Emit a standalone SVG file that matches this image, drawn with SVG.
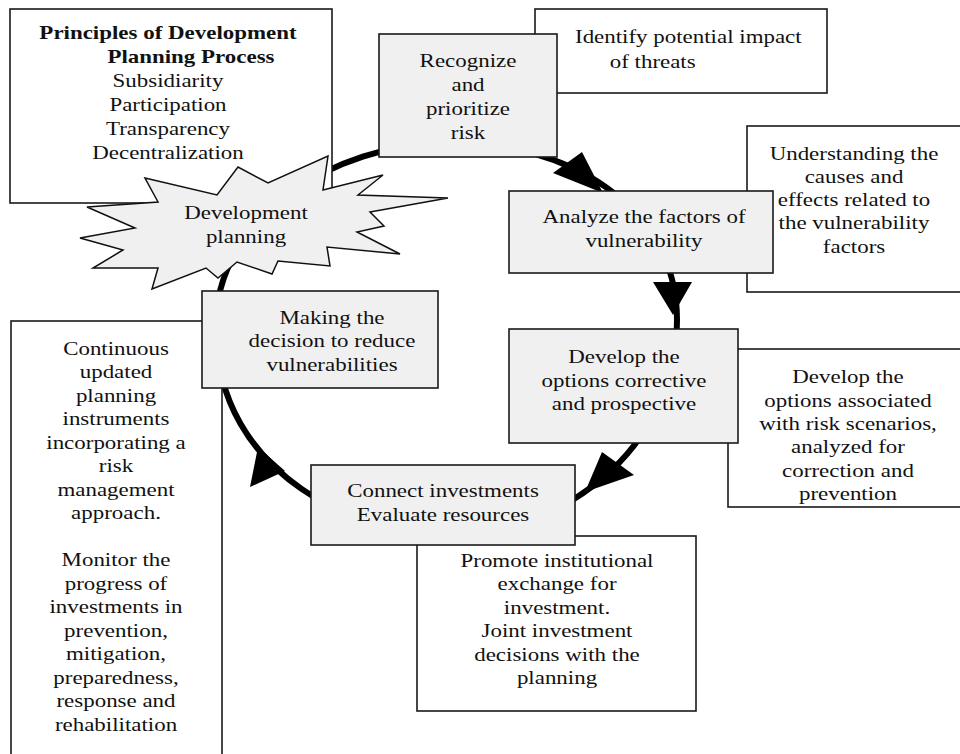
<svg xmlns="http://www.w3.org/2000/svg" width="960" height="754" viewBox="0 0 960 754">
<style>
.bg{fill:#ffffff}
.box{fill:#ffffff;stroke:#1a1a1a;stroke-width:1.6}
.gbox{fill:#f0f0f0;stroke:#1a1a1a;stroke-width:1.6}
.star{fill:#f0f0f0;stroke:#111;stroke-width:1.5;stroke-linejoin:miter}
.ring{fill:none;stroke:#000;stroke-width:6}
.head{fill:#000}
text{font-size:18.5px;fill:#111}
.c{text-anchor:middle}
.b{font-weight:bold}
</style>
<rect class="bg" x="0" y="0" width="960" height="754"/>
<g id="connectors">
<path class="ring" d="M216,325 C216,220 330,143 450,143 C565,141 677,205 677,320 C677,450 560,537 444,535 C370,537 214,480 216,325 Z"/>
<polygon class="head" points="582,152 553,173 603,193"/>
<polygon class="head" points="653,282 692,282 673,315"/>
<polygon class="head" points="602,452 634,475 585,492"/>
<polygon class="head" points="285,471 250,487 258,447"/>
</g>
<g font-family="'Liberation Serif', 'DejaVu Serif', 'Times New Roman', serif">
<g id="principles">
<rect class="box" x="10" y="9" width="322" height="194"/>
<g transform="translate(168 0) scale(1.24 1)">
<text class="c"><tspan class="b" x="0" y="39">Principles of Development</tspan><tspan class="b" x="18.5" y="63">Planning Process</tspan><tspan x="0" y="87">Subsidiarity</tspan><tspan x="0" y="111">Participation</tspan><tspan x="0" y="135">Transparency</tspan><tspan x="0" y="159">Decentralization</tspan></text>
</g>
</g>
<g id="development-planning">
<polygon class="star" points="145,178 217,195 238,167 268,183 328,156 323,190 383,175 358,195 448,198 370,212 384,226 357,232 400,254 327,247 330,266 278,261 272,274 237,262 218,278 206,268 152,289 158,268 93,268 123,250 80,238 135,228 87,207 158,202"/>
<g transform="translate(246 0) scale(1.24 1)">
<text class="c"><tspan x="0" y="219">Development</tspan><tspan x="0" y="243">planning</tspan></text>
</g>
</g>
<g id="identify">
<rect class="box" x="535" y="9" width="292" height="84"/>
<g transform="translate(575 0) scale(1.24 1)">
<text><tspan x="0" y="43">Identify potential impact</tspan><tspan x="28" y="68">of threats</tspan></text>
</g>
</g>
<g id="recognize">
<rect class="gbox" x="379" y="34" width="178" height="123"/>
<g transform="translate(468 0) scale(1.24 1)">
<text class="c"><tspan x="0" y="67">Recognize</tspan><tspan x="0" y="91">and</tspan><tspan x="0" y="115">prioritize</tspan><tspan x="0" y="139">risk</tspan></text>
</g>
</g>
<g id="understanding">
<rect class="box" x="747" y="126" width="230" height="166"/>
<g transform="translate(854 0) scale(1.24 1)">
<text class="c"><tspan x="0" y="160">Understanding the</tspan><tspan x="0" y="183">causes and</tspan><tspan x="0" y="206">effects related to</tspan><tspan x="0" y="229">the vulnerability</tspan><tspan x="0" y="253">factors</tspan></text>
</g>
</g>
<g id="analyze">
<rect class="gbox" x="509" y="191" width="264" height="82"/>
<g transform="translate(644 0) scale(1.24 1)">
<text class="c"><tspan x="0" y="223">Analyze the factors of</tspan><tspan x="0" y="247">vulnerability</tspan></text>
</g>
</g>
<g id="develop-options-note">
<rect class="box" x="728" y="349" width="250" height="158"/>
<g transform="translate(848 0) scale(1.24 1)">
<text class="c"><tspan x="0" y="383">Develop the</tspan><tspan x="0" y="407">options associated</tspan><tspan x="0" y="430">with risk scenarios,</tspan><tspan x="0" y="453">analyzed for</tspan><tspan x="0" y="477">correction and</tspan><tspan x="0" y="500">prevention</tspan></text>
</g>
</g>
<g id="develop">
<rect class="gbox" x="509" y="329" width="229" height="114"/>
<g transform="translate(624 0) scale(1.24 1)">
<text class="c"><tspan x="0" y="363">Develop the</tspan><tspan x="0" y="387">options corrective</tspan><tspan x="0" y="410">and prospective</tspan></text>
</g>
</g>
<g id="promote">
<rect class="box" x="417" y="536" width="279" height="175"/>
<g transform="translate(557 0) scale(1.24 1)">
<text class="c"><tspan x="0" y="567">Promote institutional</tspan><tspan x="0" y="590.5">exchange for</tspan><tspan x="0" y="614">investment.</tspan><tspan x="0" y="637.5">Joint investment</tspan><tspan x="0" y="661">decisions with the</tspan><tspan x="0" y="684.5">planning</tspan></text>
</g>
</g>
<g id="connect">
<rect class="gbox" x="311" y="465" width="264" height="80"/>
<g transform="translate(443 0) scale(1.24 1)">
<text class="c"><tspan x="0" y="497">Connect investments</tspan><tspan x="0" y="521">Evaluate resources</tspan></text>
</g>
</g>
<g id="continuous">
<rect class="box" x="11" y="321" width="211" height="450"/>
<g transform="translate(116 0) scale(1.24 1)">
<text class="c"><tspan x="0" y="355">Continuous</tspan><tspan x="0" y="378.5">updated</tspan><tspan x="0" y="402">planning</tspan><tspan x="0" y="425.5">instruments</tspan><tspan x="0" y="449">incorporating a</tspan><tspan x="0" y="472.5">risk</tspan><tspan x="0" y="496">management</tspan><tspan x="0" y="519.5">approach.</tspan><tspan x="0" y="566.5">Monitor the</tspan><tspan x="0" y="590">progress of</tspan><tspan x="0" y="613.5">investments in</tspan><tspan x="0" y="637">prevention,</tspan><tspan x="0" y="660.5">mitigation,</tspan><tspan x="0" y="684">preparedness,</tspan><tspan x="0" y="707.5">response and</tspan><tspan x="0" y="731">rehabilitation</tspan></text>
</g>
</g>
<g id="making">
<rect class="gbox" x="202" y="291" width="236" height="97"/>
<g transform="translate(332 0) scale(1.24 1)">
<text class="c"><tspan x="0" y="324">Making the</tspan><tspan x="0" y="347.5">decision to reduce</tspan><tspan x="0" y="371">vulnerabilities</tspan></text>
</g>
</g>
</g>
</svg>
